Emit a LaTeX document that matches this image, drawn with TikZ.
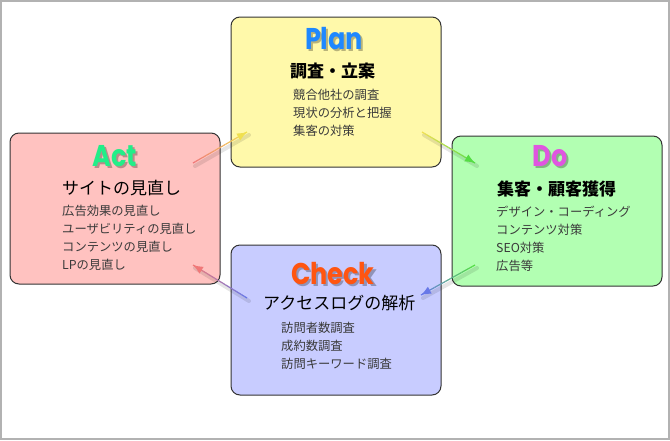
\documentclass[tikz,border=0pt]{standalone}
\usepackage{fontspec}
\setmainfont{Noto Sans CJK JP}
\newfontfamily\titlefont{Poppins}[FakeStretch=0.85]
\usetikzlibrary{calc,arrows.meta}
\definecolor{planfill}{HTML}{FFF9AA}
\definecolor{actfill}{HTML}{FFC2C0}
\definecolor{dofill}{HTML}{B2FFB2}
\definecolor{checkfill}{HTML}{C8CCFF}
\definecolor{plantxt}{HTML}{1E88FF}
\definecolor{acttxt}{HTML}{22EE88}
\definecolor{dotxt}{HTML}{E055E0}
\definecolor{checktxt}{HTML}{FF5511}
\definecolor{itemtxt}{HTML}{3A3A3A}
\definecolor{arY}{HTML}{F0E050}
\definecolor{arR}{HTML}{F07878}
\definecolor{arG}{HTML}{55DD44}
\definecolor{arB}{HTML}{6878E8}
\tikzset{
  pbox/.style={draw=black!80, line width=1pt, rounded corners=9pt, minimum width=210pt, minimum height=150pt, inner sep=0pt},
  ttl/.style={anchor=base, inner sep=0pt, font=\titlefont\bfseries\fontsize{30}{32}\selectfont},
  subb/.style={anchor=west, inner sep=0pt, font=\bfseries\fontsize{17}{20}\selectfont},
  subr/.style={anchor=west, inner sep=0pt, font=\fontsize{17}{20}\selectfont},
  itm/.style={anchor=west, inner sep=0pt, text=itemtxt, font=\fontsize{12.3}{14}\selectfont},
}
% title with a soft drop shadow, as one text
\newcommand\shtitle[3]{\makebox[0pt][l]{\hspace{2pt}\raisebox{-2pt}{\color{#2!72!black}#1}}\textcolor{#3}{#1}}
\newcommand\gradarrow[4]{%
  \draw[line width=4pt, black, opacity=0.10, line cap=round] ($(#1)+(2,3)$) -- ($(#2)+(2,3)$);
  \foreach \k in {0,...,19}{
    \pgfmathtruncatemacro\pp{100*\k/19}
    \draw[line width=1.2pt, color=#4!\pp!#3] ($(#1)!\k/20!(#2)$) -- ($(#1)!{(\k+1)/20}!(#2)$);
  }
  \draw[-{Latex[length=10pt,width=8pt]}, line width=1.2pt, #4] ($(#1)!0.85!(#2)$) -- (#2);
}
\begin{document}
\begin{tikzpicture}[x=1pt,y=-1pt]
\useasboundingbox (0,0) rectangle (670,440);
\draw[gray!60, line width=2pt] (1,1) rectangle (669,439);

% boxes
\node[pbox, fill=planfill] (plan) at (336,92) {};
\node[pbox, fill=actfill, minimum height=151pt] (act) at (115,208.5) {};
\node[pbox, fill=dofill] (do) at (557,211) {};
\node[pbox, fill=checkfill] (check) at (336,320) {};

% Plan
\node[ttl] (planT) at (334,49) {\shtitle{Plan}{planfill}{plantxt}};
\node[subb] (planSub) at (290,71) {調査・立案};
\node[itm] (p1) at (293,95) {競合他社の調査};
\node[itm] (p2) at (293,113) {現状の分析と把握};
\node[itm] (p3) at (293,131) {集客の対策};

% Act
\node[ttl] (actT) at (115,166) {\shtitle{Act}{actfill}{acttxt}};
\node[subr] (actSub) at (62,188) {サイトの見直し};
\node[itm] (a1) at (62,211) {広告効果の見直し};
\node[itm] (a2) at (62,229) {ユーザビリティの見直し};
\node[itm] (a3) at (62,247) {コンテンツの見直し};
\node[itm] (a4) at (62,265) {LPの見直し};

% Do
\node[ttl] (doT) at (550,166) {\shtitle{Do}{dofill}{dotxt}};
\node[subb] (doSub) at (497,189) {集客・顧客獲得};
\node[itm] (d1) at (496,212) {デザイン・コーディング};
\node[itm] (d2) at (496,230) {コンテンツ対策};
\node[itm] (d3) at (496,248) {SEO対策};
\node[itm] (d4) at (496,266) {広告等};

% Check
\node[ttl] (checkT) at (333,284) {\shtitle{Check}{checkfill}{checktxt}};
\node[subr] (checkSub) at (263,303) {アクセスログの解析};
\node[itm] (c1) at (281,328) {訪問者数調査};
\node[itm] (c2) at (281,346) {成約数調査};
\node[itm] (c3) at (281,364) {訪問キーワード調査};

% arrow ends
\coordinate (apS) at (193,163);
\coordinate (apE) at (247,132);
\coordinate (pdS) at (422,132);
\coordinate (pdE) at (475,163);
\coordinate (dcS) at (475,265);
\coordinate (dcE) at (421,295);
\coordinate (caS) at (247,298);
\coordinate (caE) at (193,265);

\gradarrow{apS}{apE}{arR}{arY}
\gradarrow{pdS}{pdE}{arY}{arG}
\gradarrow{dcS}{dcE}{arG}{arB}
\gradarrow{caS}{caE}{arB}{arR}
\end{tikzpicture}
\end{document}
